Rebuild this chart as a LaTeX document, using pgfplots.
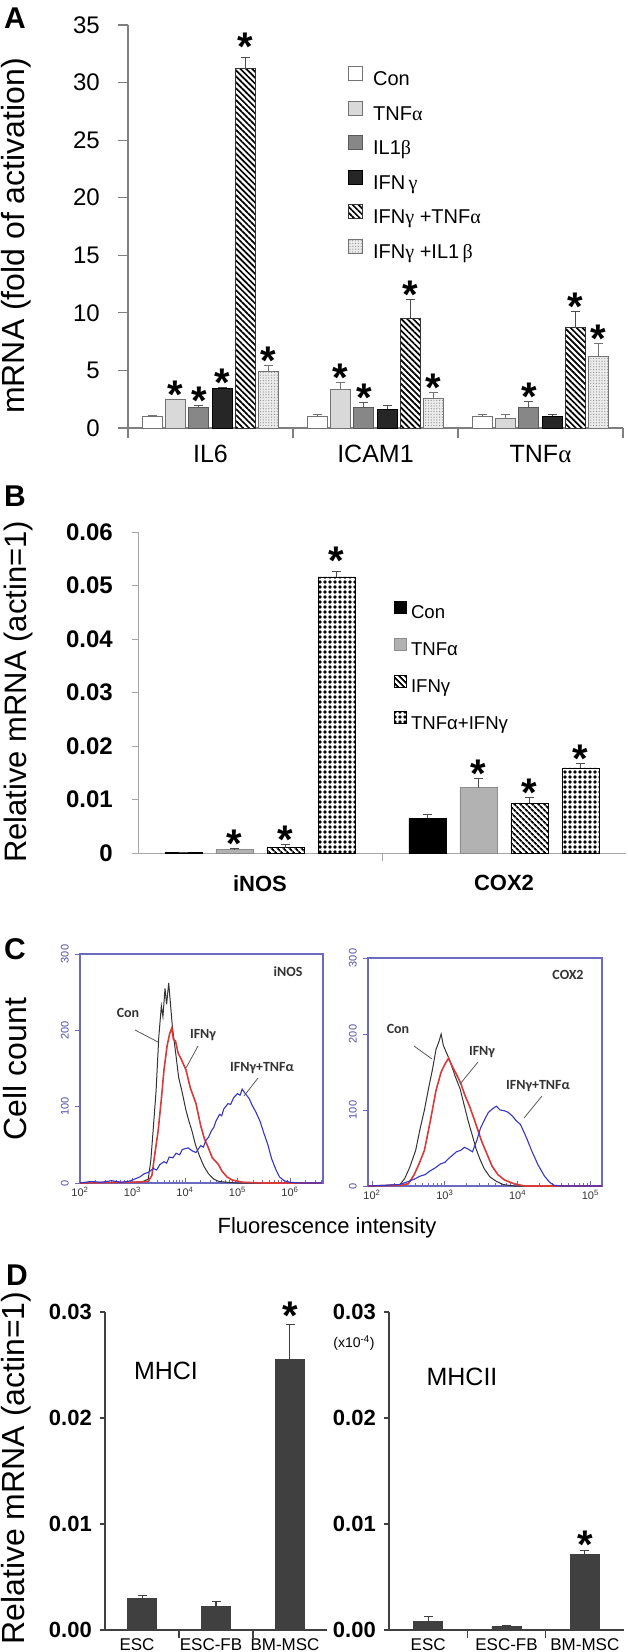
\documentclass[border=0pt]{standalone}
\usepackage{pgfplots}
\pgfplotsset{compat=1.18}
\usepackage{fontspec}
\setmainfont{Liberation Sans}
\newfontfamily\carl{Carlito}
\newfontfamily\gr{Liberation Serif}
\usetikzlibrary{patterns,patterns.meta}
\definecolor{axgray}{HTML}{7F7F7F}
\definecolor{cblue}{HTML}{6A6AC0}
\definecolor{tblue}{HTML}{5050A8}
\definecolor{histred}{HTML}{D83A3A}
\definecolor{histblue}{HTML}{3535C8}
\definecolor{dbar}{HTML}{404040}
\newcommand\fs[1]{\fontsize{#1}{#1}\selectfont}
\pgfplotsset{
  base/.style={scale only axis, anchor=south west, axis lines*=left, tick align=outside,
    /pgf/number format/assume math mode=true, clip=false, scaled y ticks=false, ymin=0},
  errs/.style={/pgfplots/error bars/y dir=plus, /pgfplots/error bars/y explicit,
    /pgfplots/error bars/error bar style={line width=1pt, draw=#1},
    /pgfplots/error bars/error mark options={rotate=90, mark size=4.5pt, line width=1pt, draw=#1}},
  hist/.style={scale only axis, anchor=south west, ymin=0, ymax=300,
    /pgf/number format/assume math mode=true,
    axis line style={draw=cblue, line width=1.3pt},
    tick style={draw=cblue, line width=0.8pt},
    tick pos=left, xtick align=inside, ytick align=outside,
    major tick length=5pt, minor tick length=3pt,
    ytick={0,100,200,300},
    yticklabel style={rotate=90, font=\fs{11}, text=tblue, anchor=south, inner sep=0pt},
    yticklabel shift=6pt,
    xticklabel style={font=\fs{11}, text=black!80, inner sep=0pt},
    xticklabel shift=4pt},
}
\tikzset{
  star/.style={anchor=base, inner sep=0pt, font=\fs{40}\bfseries, yshift=-9pt},
  plab/.style={font=\fs{30}\bfseries, inner sep=0pt},
  ylab/.style={font=\fs{32}, rotate=90, inner sep=0pt},
  clab/.style={font=\carl\bfseries\fs{14}, text=black!80, inner sep=0pt},
  lead/.style={draw=gray!70!black, line width=0.8pt},
}
\begin{document}
\begin{tikzpicture}
\useasboundingbox (0,0) rectangle (628pt,-1652pt);

% ---------------- Panel A ----------------
\node[plab] at (15pt,-18pt) {A};
\node[ylab] at (16pt,-236pt) {mRNA (fold of activation)};
\begin{axis}[base, at={(128pt,-428pt)}, width=495pt, height=403pt,
  xmin=-0.5, xmax=2.5, ymax=35,
  axis line style={draw=axgray, line width=1.1pt},
  tick style={draw=axgray, line width=1.1pt},
  ytick={0,5,10,15,20,25,30,35}, major tick length=10pt, minor tick length=10pt,
  xtick={0,1,2}, xticklabels={IL6,ICAM1,TNF{\gr α}},
  major x tick style={draw=none},
  minor xtick={-0.5,0.5,1.5,2.5},
  yticklabel style={font=\fs{24}, inner sep=0pt}, yticklabel shift=18pt,
  xticklabel style={font=\fs{25}, inner sep=0pt}, xticklabel shift=7pt,
  legend image code/.code={\draw[#1, line width=1pt] (0pt,0pt) rectangle (14pt,14pt);},
  legend style={draw=none, fill=none, at={(0.4444,0.898)}, anchor=north west, font=\fs{20},
     row sep=11pt, column sep=10pt, inner sep=0pt,
     nodes={inner sep=0pt, text height=14pt, text depth=4pt}},
  legend cell align=left,
]
\addplot[ybar, bar width=0.121, bar shift=0pt, draw=gray!90!black, fill=white, line width=1pt, errs=gray!90!black]
  coordinates {(-0.3515,1.0) +- (0,0.05) (0.6485,1.04) +- (0,0.1) (1.6485,1.04) +- (0,0.1)};
\addlegendentry{Con}
\addplot[ybar, bar width=0.121, bar shift=0pt, draw=gray!90!black, fill=black!15, line width=1pt, errs=gray!90!black]
  coordinates {(-0.2109,2.45) +- (0,0.05) (0.7891,3.35) +- (0,0.6) (1.7891,0.82) +- (0,0.36)};
\addlegendentry{TNF{\gr α}}
\addplot[ybar, bar width=0.121, bar shift=0pt, draw=black!65, fill=black!47, line width=1pt, errs=black!65]
  coordinates {(-0.0703,1.82) +- (0,0.12) (0.9297,1.82) +- (0,0.42) (1.9297,1.82) +- (0,0.52)};
\addlegendentry{IL1{\gr β}}
\addplot[ybar, bar width=0.121, bar shift=0pt, draw=black, fill=black!85, line width=1pt, errs=black!70]
  coordinates {(0.0703,3.45) +- (0,0.1) (1.0703,1.62) +- (0,0.35) (2.0703,1.04) +- (0,0.1)};
\addlegendentry{IFN\,{\gr γ}}
\addplot[ybar, bar width=0.121, bar shift=0pt, draw=black!80, fill=white, line width=1pt,
  postaction={pattern={Lines[angle=-45,distance=4.2pt,line width=1.7pt]}, pattern color=black}, errs=black!70]
  coordinates {(0.2109,31.2) +- (0,1.0) (1.2109,9.55) +- (0,1.65) (2.2109,8.7) +- (0,1.4)};
\addlegendentry{IFN{\gr γ} +TNF{\gr α}}
\addplot[ybar, bar width=0.121, bar shift=0pt, draw=gray!90!black, fill=black!8, line width=1pt,
  postaction={pattern={Dots[radius=0.6pt,distance=2.8pt]}, pattern color=black!45}, errs=gray!90!black]
  coordinates {(0.3515,4.94) +- (0,0.5) (1.3515,2.54) +- (0,0.52) (2.3515,6.2) +- (0,1.1)};
\addlegendentry{IFN{\gr γ} +IL1\,{\gr β}}
\node[star] at (axis cs:-0.2109,2.5) {*};
\node[star] at (axis cs:-0.0703,1.94) {*};
\node[star] at (axis cs:0.0703,3.55) {*};
\node[star, yshift=6pt] at (axis cs:0.2109,32.2) {*};
\node[star] at (axis cs:0.3515,5.44) {*};
\node[star] at (axis cs:0.7891,3.95) {*};
\node[star] at (axis cs:0.9297,2.24) {*};
\node[star] at (axis cs:1.2109,11.2) {*};
\node[star] at (axis cs:1.3515,3.06) {*};
\node[star] at (axis cs:1.9297,2.34) {*};
\node[star] at (axis cs:2.2109,10.1) {*};
\node[star] at (axis cs:2.3515,7.3) {*};
\end{axis}

% ---------------- Panel B ----------------
\node[plab] at (15pt,-496pt) {B};
\node[ylab, font=\fs{31}] at (18pt,-692pt) {Relative mRNA (actin=1)};
\begin{axis}[base, at={(138pt,-853pt)}, width=488pt, height=321pt,
  xmin=-0.5, xmax=1.5, ymax=0.06,
  axis line style={draw=gray!70, line width=1pt},
  tick style={draw=gray!70, line width=1pt},
  ytick={0,0.01,0.02,0.03,0.04,0.05,0.06}, yticklabels={0,0.01,0.02,0.03,0.04,0.05,0.06},
  major tick length=6pt, minor tick length=8pt,
  xtick={0,1}, xticklabels={iNOS,COX2}, major x tick style={draw=none},
  minor xtick={0.5},
  yticklabel style={font=\fs{24}\bfseries, inner sep=0pt}, yticklabel shift=19pt,
  xticklabel style={font=\fs{22}\bfseries, inner sep=0pt}, xticklabel shift=16pt,
  legend image code/.code={\draw[#1, line width=0.8pt] (0pt,0.7pt) rectangle (12pt,12.7pt);},
  legend style={draw=none, fill=none, at={(0.5246,0.785)}, anchor=north west, font=\fs{18.6},
     row sep=15pt, column sep=4pt, inner sep=0pt,
     nodes={inner sep=0pt, text height=13.3pt, text depth=4pt}},
  legend cell align=left,
]
\addplot[ybar, bar width=0.152, bar shift=0pt, draw=black, fill=black, line width=0.8pt, errs=black!70]
  coordinates {(-0.3135,0.0001) +- (0,0) (0.6865,0.0065) +- (0,0.0007)};
\addlegendentry{Con}
\addplot[ybar, bar width=0.152, bar shift=0pt, draw=gray!90, fill=gray!60, line width=0.8pt, errs=black!70]
  coordinates {(-0.1045,0.0007) +- (0,0.0001) (0.8955,0.0122) +- (0,0.0017)};
\addlegendentry{TNFα}
\addplot[ybar, bar width=0.152, bar shift=0pt, draw=black, fill=white, line width=0.8pt,
  postaction={pattern={Lines[angle=-45,distance=4pt,line width=1.8pt]}, pattern color=black}, errs=black!70]
  coordinates {(0.1045,0.0010) +- (0,0.0005) (1.1045,0.0093) +- (0,0.0010)};
\addlegendentry{IFNγ}
\addplot[ybar, bar width=0.152, bar shift=0pt, draw=black, fill=white, line width=0.8pt,
  postaction={pattern={Dots[radius=1.8pt,distance=5pt]}, pattern color=black}, errs=black!70]
  coordinates {(0.3135,0.0516) +- (0,0.0011) (1.3135,0.0159) +- (0,0.0008)};
\addlegendentry{TNFα+IFNγ}
\node[star] at (axis cs:-0.1045,0.0008) {*};
\node[star] at (axis cs:0.1045,0.0015) {*};
\node[star, yshift=6pt] at (axis cs:0.3135,0.0527) {*};
\node[star] at (axis cs:0.8955,0.0139) {*};
\node[star] at (axis cs:1.1045,0.0103) {*};
\node[star] at (axis cs:1.3135,0.0167) {*};
\end{axis}

% ---------------- Panel C ----------------
\node[plab] at (15pt,-949pt) {C};
\node[ylab] at (15pt,-1069pt) {Cell count};
\node[font=\fs{22}, inner sep=0pt] at (327pt,-1228pt) {Fluorescence intensity};
\begin{axis}[hist, at={(80pt,-1183pt)}, width=243pt, height=229pt,
  xmin=2, xmax=6.63,
  xtick={2,3,4,5,6}, xticklabels={10\textsuperscript{2},10\textsuperscript{3},10\textsuperscript{4},10\textsuperscript{5},10\textsuperscript{6}},
  minor xtick={2.301,2.477,2.602,2.699,2.778,2.845,2.903,2.954,3.301,3.477,3.602,3.699,3.778,3.845,3.903,3.954,4.301,4.477,4.602,4.699,4.778,4.845,4.903,4.954,5.301,5.477,5.602,5.699,5.778,5.845,5.903,5.954,6.301,6.477,6.602},
]
\addplot[draw=black!80, line width=1pt] coordinates {
(2.0,0) (2.5,1) (3.0,1) (3.2,2) (3.3,5) (3.35,30) (3.40,75) (3.45,121) (3.50,190) (3.55,232) (3.58,218)
(3.62,255) (3.65,234) (3.69,262) (3.72,238) (3.76,205) (3.82,172) (3.88,138) (3.94,121) (4.02,95) (4.08,80)
(4.13,69) (4.2,50) (4.28,35) (4.36,22) (4.45,12) (4.55,5) (4.65,2) (4.8,1) (5.0,0) (6.6,0)};
\addplot[draw=histred, line width=1.6pt] coordinates {
(2.0,0) (3.0,1) (3.3,2) (3.37,10) (3.43,40) (3.49,69) (3.55,110) (3.6,148) (3.66,180) (3.71,196) (3.75,203)
(3.78,188) (3.82,186) (3.87,170) (3.93,162) (4.02,148) (4.1,125) (4.21,104) (4.3,75) (4.37,58) (4.44,47)
(4.52,33) (4.59,28) (4.64,24) (4.70,16) (4.8,8) (4.9,4) (5.1,1) (5.5,0) (6.6,0)};
\addplot[draw=histblue, line width=1.1pt] coordinates {
(2.0,0) (2.2,2) (2.4,1) (2.6,3) (2.8,1) (2.91,2) (3.0,4) (3.14,8) (3.22,12) (3.3,14) (3.4,19) (3.46,17) (3.52,24)
(3.6,28) (3.65,26) (3.7,34) (3.77,33) (3.83,39) (3.9,37) (3.95,44) (4.06,46) (4.14,42) (4.21,40) (4.3,49)
(4.35,47) (4.40,56) (4.45,60) (4.5,68) (4.55,73) (4.59,81) (4.66,90) (4.7,88) (4.74,97) (4.82,104) (4.87,103)
(4.93,112) (5.0,117) (5.05,115) (5.09,123) (5.15,117) (5.22,111) (5.28,102) (5.35,93) (5.43,81) (5.5,66)
(5.58,50) (5.65,32) (5.73,18) (5.8,8) (5.89,3) (6.0,1) (6.2,0) (6.6,0)};
\end{axis}
\node[clab] at (288pt,-972pt) {iNOS};
\node[clab] at (128pt,-1013pt) {Con};
\draw[lead] (135pt,-1030pt) -- (158pt,-1042pt);
\node[clab] at (203pt,-1035pt) {IFNγ};
\draw[lead] (198pt,-1046pt) -- (186pt,-1068pt);
\node[clab] at (262pt,-1068pt) {IFNγ+TNFα};
\draw[lead] (258pt,-1078pt) -- (244pt,-1096pt);

\begin{axis}[hist, at={(368pt,-1186pt)}, width=234pt, height=228pt,
  xmin=1.945, xmax=5.16,
  xtick={2,3,4,5}, xticklabels={10\textsuperscript{2},10\textsuperscript{3},10\textsuperscript{4},10\textsuperscript{5}},
  minor xtick={1.954,2.301,2.477,2.602,2.699,2.778,2.845,2.903,2.954,3.301,3.477,3.602,3.699,3.778,3.845,3.903,3.954,4.301,4.477,4.602,4.699,4.778,4.845,4.903,4.954},
]
\addplot[draw=black!80, line width=1pt] coordinates {
(1.95,0) (2.2,1) (2.385,2) (2.45,10) (2.52,25) (2.6,47) (2.66,75) (2.72,100) (2.78,130) (2.83,153) (2.88,180)
(2.92,190) (2.95,200) (2.98,185) (3.02,176) (3.07,165) (3.14,145) (3.21,128) (3.27,105) (3.32,86) (3.38,66)
(3.43,49) (3.48,36) (3.54,23) (3.62,12) (3.71,6) (3.8,2) (3.95,0) (5.16,0)};
\addplot[draw=histred, line width=1.6pt] coordinates {
(1.95,0) (2.4,1) (2.5,3) (2.58,15) (2.65,30) (2.72,47) (2.8,85) (2.88,126) (2.95,150) (3.0,160) (3.05,168)
(3.1,158) (3.16,147) (3.22,135) (3.27,121) (3.34,105) (3.40,89) (3.46,72) (3.51,58) (3.58,42) (3.65,26)
(3.73,15) (3.82,8) (3.95,3) (4.1,0) (5.16,0)};
\addplot[draw=histblue, line width=1.1pt] coordinates {
(1.95,0) (2.2,1) (2.385,2) (2.5,6) (2.58,9) (2.66,13) (2.73,15) (2.8,20) (2.87,24) (2.94,29) (3.0,31) (3.05,36)
(3.1,40) (3.16,45) (3.22,47) (3.27,51) (3.33,48) (3.38,45) (3.44,60) (3.49,76) (3.55,88) (3.6,97) (3.66,102)
(3.71,105) (3.76,100) (3.82,99) (3.87,97) (3.93,92) (3.98,86) (4.04,81) (4.12,64) (4.2,45) (4.28,28) (4.37,13)
(4.44,5) (4.5,1) (4.6,0) (5.16,0)};
\end{axis}
\node[clab] at (568pt,-975pt) {COX2};
\node[clab] at (398pt,-1029pt) {Con};
\draw[lead] (414pt,-1046pt) -- (432pt,-1059pt);
\node[clab] at (482pt,-1052pt) {IFNγ};
\draw[lead] (478pt,-1062pt) -- (460pt,-1084pt);
\node[clab] at (538pt,-1086pt) {IFNγ+TNFα};
\draw[lead] (542pt,-1096pt) -- (524pt,-1118pt);

% ---------------- Panel D ----------------
\node[plab] at (17pt,-1275pt) {D};
\node[ylab] at (16pt,-1468pt) {Relative mRNA (actin=1)};
\begin{axis}[base, at={(105pt,-1630pt)}, width=222pt, height=318pt,
  xmin=-0.5, xmax=2.5, ymax=0.03,
  axis line style={draw=dbar, line width=1.3pt},
  tick style={draw=dbar, line width=1.3pt},
  ytick={0,0.01,0.02,0.03}, yticklabels={0.00,0.01,0.02,0.03},
  major tick length=5pt, minor tick length=8pt,
  xtick={0,1,2}, xticklabels={ESC,ESC-FB,BM-MSC}, major x tick style={draw=none},
  minor xtick={0.5,1.5},
  yticklabel style={font=\fs{22}\bfseries, inner sep=0pt}, yticklabel shift=8pt,
  xticklabel style={font=\fs{17}, inner sep=0pt, xshift=-5pt}, xticklabel shift=3pt,
]
\addplot[ybar, bar width=0.39, bar shift=0pt, draw=dbar, fill=dbar, line width=0.8pt, errs=dbar]
  coordinates {(0,0.0030) +- (0,0.0003) (1,0.0022) +- (0,0.0005) (2,0.0255) +- (0,0.0033)};
\node[star, yshift=4pt] at (axis cs:2,0.0288) {*};
\end{axis}
\node[font=\fs{25}, inner sep=0pt] at (166pt,-1371pt) {MHCI};
\begin{axis}[base, at={(389pt,-1630pt)}, width=235pt, height=318pt,
  xmin=-0.5, xmax=2.5, ymax=0.03,
  axis line style={draw=dbar, line width=1.3pt},
  tick style={draw=dbar, line width=1.3pt},
  ytick={0,0.01,0.02,0.03}, yticklabels={0.00,0.01,0.02,0.03},
  major tick length=5pt, minor tick length=8pt,
  xtick={0,1,2}, xticklabels={ESC,ESC-FB,BM-MSC}, major x tick style={draw=none},
  minor xtick={0.5,1.5},
  yticklabel style={font=\fs{22}\bfseries, inner sep=0pt}, yticklabel shift=8pt,
  xticklabel style={font=\fs{17}, inner sep=0pt}, xticklabel shift=3pt,
]
\addplot[ybar, bar width=0.372, bar shift=0pt, draw=dbar, fill=dbar, line width=0.8pt, errs=dbar]
  coordinates {(0,0.00085) +- (0,0.0004) (1,0.0003) +- (0,0.0001) (2,0.0071) +- (0,0.0004)};
\node[star, yshift=1pt] at (axis cs:2,0.0075) {*};
\end{axis}
\node[font=\fs{25}, inner sep=0pt] at (462pt,-1377pt) {MHCII};
\node[font=\fs{14}, inner sep=0pt] at (354pt,-1343pt) {(x10\textsuperscript{-4})};
\end{tikzpicture}
\end{document}
